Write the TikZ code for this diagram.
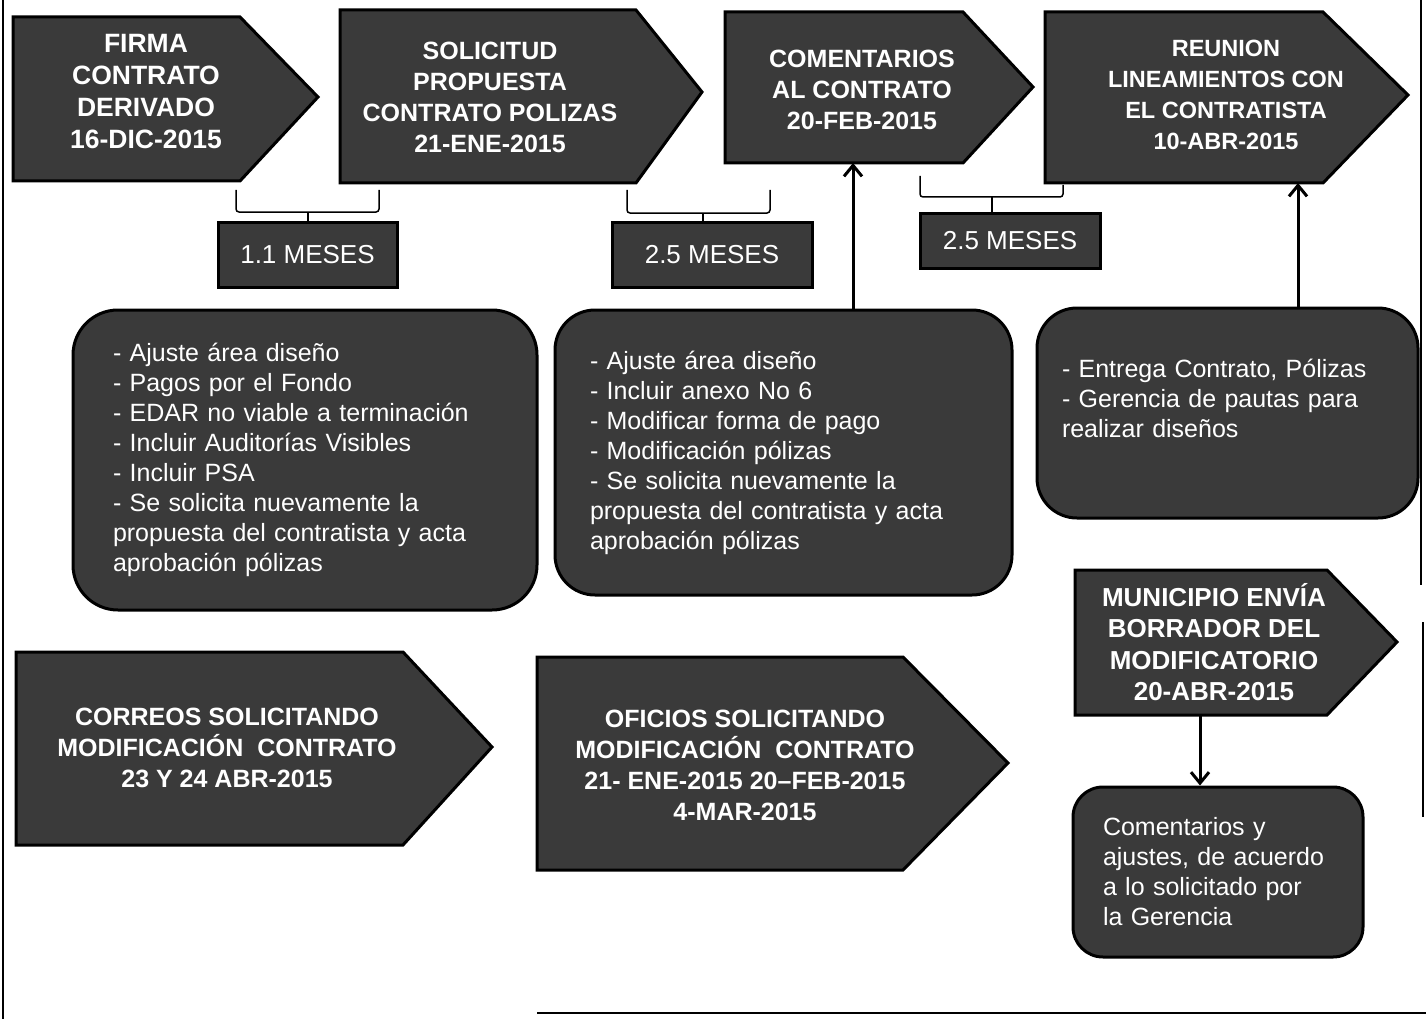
\documentclass[tikz,border=0pt]{standalone}
\usepackage{fontspec}
\setmainfont{Liberation Sans}
\usetikzlibrary{arrows.meta}
\definecolor{darkfill}{HTML}{3A3A3A}
\newcommand\ArrowPath[6]{\filldraw[pent] (#1,#2) -- (#3,#2) -- (#4,#5) -- (#3,#6) -- (#1,#6) -- cycle;}
\tikzset{
  pent/.style={fill=darkfill, draw=black, line width=3pt, line join=miter},
  hdr/.style={text=white, align=center, font=\bfseries\fontsize{25}{31}\selectfont, inner sep=0pt},
  rbox/.style={fill=darkfill, draw=black, line width=3pt, rounded corners=40pt, text=white, align=left, font=\fontsize{25}{30}\selectfont, inner ysep=0pt},
  mbox/.style={fill=darkfill, draw=black, line width=3pt, text=white, font=\fontsize{26}{30}\selectfont, inner sep=0pt},
  conn/.style={line width=3pt, -{Straight Barb[length=11pt,width=18pt]}},
  brk/.style={line width=1.5pt, rounded corners=3pt},
  frameline/.style={line width=2pt}
}
\begin{document}
\begin{tikzpicture}[x=1pt,y=-1pt]
\useasboundingbox (0,0) rectangle (1426,1019);
% page frame lines
\draw[frameline] (3,0) -- (3,1019);
\draw[frameline] (1421,0) -- (1421,585);
\draw[frameline] (1423,622) -- (1423,817);
\draw[frameline] (537,1013) -- (1426,1013);

% top row arrow shapes
\ArrowPath{13}{17}{240}{318}{97}{181}
\node[hdr, font=\bfseries\fontsize{26.5}{32}\selectfont] (firma) at (146,92) {FIRMA\\CONTRATO\\DERIVADO\\16-DIC-2015};
\ArrowPath{340}{10}{636}{702}{92}{183}
\node[hdr] (solic) at (490,97) {SOLICITUD\\PROPUESTA\\CONTRATO POLIZAS\\21-ENE-2015};
\ArrowPath{725}{12}{963}{1033}{87}{163}
\node[hdr] (coment) at (862,90) {COMENTARIOS\\AL CONTRATO\\20-FEB-2015};
\ArrowPath{1045}{12}{1323}{1408}{95}{183}
\node[hdr, font=\bfseries\fontsize{23.5}{31}\selectfont] (reunion) at (1226,95) {REUNION\\LINEAMIENTOS CON\\EL CONTRATISTA\\10-ABR-2015};

% month boxes
\node[mbox, minimum width=179pt, minimum height=65pt] (m1) at (307.5,254.5) {1.1 MESES};
\node[mbox, minimum width=200pt, minimum height=65pt] (m2) at (712,254.5) {2.5 MESES};
\node[mbox, minimum width=180pt, minimum height=55pt] (m3) at (1010,240.5) {2.5 MESES};

% brackets
\coordinate (k1L) at (236,190); \coordinate (k1M) at (308,212); \coordinate (k1R) at (379,190);
\draw[brk] (k1L) |- (k1M) -| (k1R);
\draw[brk] (k1M) -- (m1.north -| k1M);
\coordinate (k2L) at (627,190); \coordinate (k2M) at (703,213); \coordinate (k2R) at (770,190);
\draw[brk] (k2L) |- (k2M) -| (k2R);
\draw[brk] (k2M) -- (m2.north -| k2M);
\coordinate (k3L) at (920,176); \coordinate (k3M) at (992,197); \coordinate (k3R) at (1063,185);
\draw[brk] (k3L) |- (k3M) -| (k3R);
\draw[brk] (k3M) -- (m3.north -| k3M);

% rounded boxes
\node[rbox, rounded corners=45pt, minimum width=464pt, minimum height=300pt, text width=384pt, inner xsep=40pt] (b1) at (305,460)
 {- Ajuste área diseño\\- Pagos por el Fondo\\- EDAR no viable a terminación\\- Incluir Auditorías Visibles\\- Incluir PSA\\- Se solicita nuevamente la\\propuesta del contratista y acta\\aprobación pólizas};
\node[rbox, minimum width=457pt, minimum height=285pt, text width=387pt, inner xsep=35pt] (b2) at (783.5,452.5)
 {- Ajuste área diseño\\- Incluir anexo No 6\\- Modificar forma de pago\\- Modificación pólizas\\- Se solicita nuevamente la\\propuesta del contratista y acta\\aprobación pólizas};
\node[rbox, minimum width=381pt, minimum height=210pt, text width=331pt, inner xsep=25pt] (b3) at (1227.5,413)
 {- Entrega Contrato, Pólizas\\- Gerencia de pautas para\\realizar diseños\\\mbox{}};

% connectors up
\coordinate (comB) at (853,163);
\draw[conn] (b2.north -| comB) -- (comB);
\coordinate (reuB) at (1298,183);
\draw[conn] (b3.north -| reuB) -- (reuB);

% lower arrow shapes
\ArrowPath{1075}{570}{1327}{1397}{642}{715}
\node[hdr, font=\bfseries\fontsize{26}{31.5}\selectfont] (munic) at (1214,642) {MUNICIPIO ENVÍA\\BORRADOR DEL\\MODIFICATORIO\\20-ABR-2015};
\ArrowPath{16}{652}{403}{492}{747}{845}
\node[hdr] (correos) at (227,748) {CORREOS SOLICITANDO\\MODIFICACIÓN~~CONTRATO\\23 Y 24 ABR-2015};
\ArrowPath{537}{657}{903}{1008}{763}{870}
\node[hdr] (oficios) at (745,765) {OFICIOS SOLICITANDO\\MODIFICACIÓN~~CONTRATO\\21- ENE-2015 20–FEB-2015\\4-MAR-2015};

\node[rbox, rounded corners=30pt, minimum width=290pt, minimum height=170pt, text width=230pt, inner xsep=30pt] (b4) at (1218,872)
 {Comentarios y\\ajustes, de acuerdo\\a lo solicitado por\\la Gerencia};
\coordinate (munB) at (1200,715);
\draw[conn] (munB) -- (b4.north -| munB);
\end{tikzpicture}
\end{document}
